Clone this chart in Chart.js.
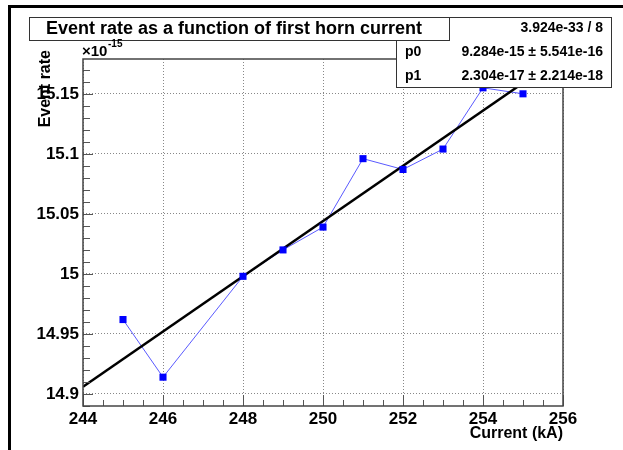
<html>
<head>
<meta charset="utf-8">
<title>Event rate as a function of first horn current</title>
<script src="https://cdn.jsdelivr.net/npm/chart.js@4.4.1/dist/chart.umd.min.js"></script>
<style>
body { margin: 0; background: #fff; }
#rateChart { display: block; }
</style>
</head>
<body>
<canvas id="rateChart" width="623" height="450"></canvas>
<script>
// measured points (event rate in units of 1e-15)
const currentKA = [245, 246, 248, 249, 250, 251, 252, 253, 254, 255];
const eventRate = [14.962, 14.914, 14.998, 15.020, 15.039, 15.096, 15.087, 15.104, 15.155, 15.150];

// straight line fit, read at both ends of the axis
const fitCurrent = [244, 256];
const fitRate = [14.906, 15.182];

const xTicks = [244, 246, 248, 250, 252, 254, 256];
const xTickLabels = ['244', '246', '248', '250', '252', '254', '256'];
const yTicks = [14.9, 14.95, 15, 15.05, 15.1, 15.15];
const yTickLabels = ['14.9', '14.95', '15', '15.05', '15.1', '15.15'];

const statNames = ['\u03c7\u00b2 / ndf', 'p0', 'p1'];
const statValues = ['3.924e-33 / 8', '9.284e-15 \u00b1 5.541e-16', '2.304e-17 \u00b1 2.214e-18'];

const FONT = "'Liberation Sans', Arial, Helvetica, sans-serif";

// ROOT style extras: frame, inward ticks, title box, stats box
const rootLook = {
    id: 'rootLook',
    beforeDraw(chart) {
        const ctx = chart.ctx;
        ctx.save();
        ctx.fillStyle = '#fff';
        ctx.fillRect(0, 0, chart.width, chart.height);
        ctx.restore();
    },
    afterDraw(chart) {
        const ctx = chart.ctx;
        const a = chart.chartArea;
        const xs = chart.scales.x;
        const ys = chart.scales.y;
        ctx.save();

        // ticks
        ctx.strokeStyle = '#555';
        ctx.lineWidth = 1;
        ctx.beginPath();
        for (let k = 488; k <= 512; k++) {
            const px = Math.round(xs.getPixelForValue(k / 2)) + 0.5;
            const len = (k % 4 === 0) ? 11 : 6;
            ctx.moveTo(px, a.bottom);
            ctx.lineTo(px, a.bottom - len);
        }
        for (let k = 1489; k <= 1517; k++) {
            const py = Math.round(ys.getPixelForValue(k / 100)) + 0.5;
            const len = (k % 5 === 0) ? 10 : 7;
            ctx.moveTo(a.left, py);
            ctx.lineTo(a.left + len, py);
        }
        ctx.stroke();

        // plot frame
        ctx.strokeStyle = '#444';
        ctx.lineWidth = 1.5;
        ctx.strokeRect(a.left, a.top, a.right - a.left, a.bottom - a.top);

        // canvas border (cut by the picture edge)
        ctx.strokeStyle = '#000';
        ctx.lineWidth = 3;
        ctx.beginPath();
        ctx.moveTo(9.5, 460);
        ctx.lineTo(9.5, 6.5);
        ctx.lineTo(640, 6.5);
        ctx.stroke();

        // stats box
        ctx.fillStyle = '#fff';
        ctx.strokeStyle = '#333';
        ctx.lineWidth = 1;
        ctx.fillRect(396, 17, 216, 70);
        ctx.strokeRect(396.5, 17.5, 215, 70);
        ctx.fillStyle = '#000';
        ctx.font = 'bold 14px ' + FONT;
        ctx.textBaseline = 'middle';
        for (let i = 0; i < statNames.length; i++) {
            const y = 28.5 + i * 24;
            ctx.textAlign = 'left';
            ctx.fillText(statNames[i], i === 0 ? 400 : 405, y);
            ctx.textAlign = 'right';
            ctx.fillText(statValues[i], 603, y);
        }

        // title box
        ctx.fillStyle = '#fff';
        ctx.fillRect(29, 17, 420, 23);
        ctx.strokeStyle = '#333';
        ctx.strokeRect(29.5, 17.5, 420, 23);
        ctx.fillStyle = '#000';
        ctx.font = 'bold 18px ' + FONT;
        ctx.textAlign = 'center';
        ctx.fillText('Event rate as a function of first horn current', 234, 29.5);

        // exponent label
        ctx.textAlign = 'left';
        ctx.textBaseline = 'alphabetic';
        ctx.font = 'bold 15px ' + FONT;
        ctx.fillText('\u00d710', 82, 56);
        ctx.font = 'bold 10px ' + FONT;
        ctx.fillText('-15', 108, 47);

        // axis titles
        ctx.font = 'bold 16px ' + FONT;
        ctx.textAlign = 'right';
        ctx.textBaseline = 'middle';
        ctx.fillText('Current (kA)', 563, 434);
        ctx.translate(46, 50);
        ctx.rotate(-Math.PI / 2);
        ctx.fillText('Event rate', 0, 0);

        ctx.restore();
    }
};

const ctx = document.getElementById('rateChart').getContext('2d');
const rateChart = new Chart(ctx, {
    type: 'scatter',
    data: {
        datasets: [
            {
                // markers on top
                data: currentKA.map((x, i) => ({x: x, y: eventRate[i]})),
                showLine: false,
                pointStyle: 'rect',
                pointRadius: 5,
                pointBorderWidth: 0,
                backgroundColor: '#0000ff',
                borderColor: '#0000ff',
                order: 0
            },
            {
                data: fitCurrent.map((x, i) => ({x: x, y: fitRate[i]})),
                showLine: true,
                pointRadius: 0,
                borderColor: '#000',
                borderWidth: 2.5,
                order: 1
            },
            {
                data: currentKA.map((x, i) => ({x: x, y: eventRate[i]})),
                showLine: true,
                pointRadius: 0,
                borderColor: '#5a5aff',
                borderWidth: 1,
                order: 2
            }
        ]
    },
    options: {
        responsive: false,
        animation: false,
        events: [],
        layout: {
            padding: {left: 13, right: 60, top: 59, bottom: 14}
        },
        plugins: {
            legend: {display: false},
            title: {display: false},
            tooltip: {enabled: false}
        },
        scales: {
            x: {
                type: 'linear',
                min: 244,
                max: 256,
                afterBuildTicks: function(scale) {
                    scale.ticks = xTicks.map(v => ({value: v}));
                },
                afterFit: function(scale) { scale.height = 30; },
                grid: {color: '#888', lineWidth: 1, drawTicks: false},
                border: {display: false, dash: [1, 2]},
                ticks: {
                    padding: 3,
                    maxRotation: 0,
                    color: '#000',
                    font: {family: FONT, size: 17, weight: 'bold'},
                    callback: function(value, index) { return xTickLabels[index]; }
                }
            },
            y: {
                type: 'linear',
                min: 14.89,
                max: 15.179,
                afterBuildTicks: function(scale) {
                    scale.ticks = yTicks.map(v => ({value: v}));
                },
                afterFit: function(scale) { scale.width = 70; },
                grid: {color: '#888', lineWidth: 1, drawTicks: false},
                border: {display: false, dash: [1, 2]},
                ticks: {
                    padding: 4,
                    color: '#000',
                    font: {family: FONT, size: 17, weight: 'bold'},
                    callback: function(value, index) { return yTickLabels[index]; }
                }
            }
        }
    },
    plugins: [rootLook]
});
</script>
</body>
</html>
